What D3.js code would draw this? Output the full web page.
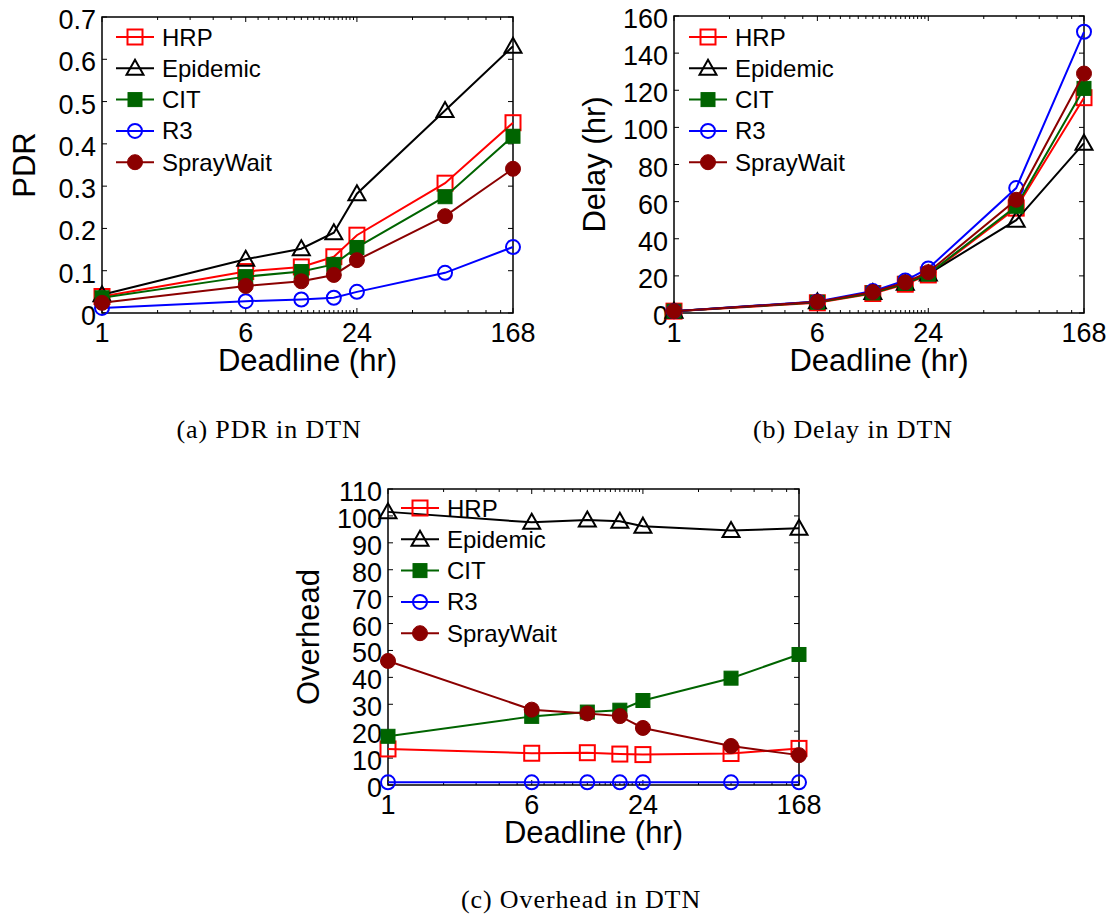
<!DOCTYPE html>
<html>
<head>
<meta charset="utf-8">
<script src="https://cdn.jsdelivr.net/npm/d3@7"></script>
<style>
  html, body { margin: 0; padding: 0; background: #fff; }
  svg text { font-family: "Liberation Sans", Arial, Helvetica, sans-serif; fill: #000; }
  svg text.caption { font-family: "Liberation Serif", "Times New Roman", serif; letter-spacing: 0.9px; }
</style>
</head>
<body>
<svg id="fig" width="1111" height="915"></svg>
<script>
// Deadlines (hours) at which every protocol was evaluated
const deadlines = [1, 6, 12, 18, 24, 72, 168];
const xTickValues = [1, 6, 24, 168];
// hourly minor ticks up to a day, then daily ones up to a week
const xMinorTicks = [2, 3, 4, 5, 7, 8, 9, 10, 11, 12, 13, 14, 15, 16, 17, 18, 19, 20, 21, 22, 23, 48, 72, 96, 120, 144];

const seriesNames = ["HRP", "Epidemic", "CIT", "R3", "SprayWait"];

// Packet delivery ratio
const pdrHRP       = [0.039, 0.098, 0.109, 0.133, 0.184, 0.307, 0.450];
const pdrEpidemic  = [0.043, 0.127, 0.152, 0.190, 0.282, 0.479, 0.631];
const pdrCIT       = [0.036, 0.086, 0.098, 0.115, 0.155, 0.275, 0.418];
const pdrR3        = [0.012, 0.028, 0.032, 0.036, 0.050, 0.095, 0.156];
const pdrSprayWait = [0.024, 0.064, 0.075, 0.090, 0.125, 0.229, 0.341];
const pdrTicks = [0, 0.1, 0.2, 0.3, 0.4, 0.5, 0.6, 0.7];

// Average delay (hr)
const delayHRP       = [1.0, 5.5, 10.5, 15.5, 20.5, 56.5, 116.0];
const delayEpidemic  = [1.0, 6.0, 11.0, 16.0, 21.0, 50.0, 91.5];
const delayCIT       = [1.0, 5.8, 10.8, 16.0, 21.0, 57.5, 121.0];
const delayR3        = [1.0, 6.2, 11.8, 17.5, 24.0, 67.3, 151.5];
const delaySprayWait = [1.0, 6.0, 11.3, 16.5, 22.0, 61.0, 129.0];
const delayTicks = [0, 20, 40, 60, 80, 100, 120, 140, 160];

// Overhead
const ohHRP       = [13.4, 11.8, 12.0, 11.5, 11.3, 11.7, 13.6];
const ohEpidemic  = [101.5, 97.6, 98.5, 98.0, 96.2, 94.6, 95.4];
const ohCIT       = [18.1, 25.5, 27.1, 27.8, 31.4, 39.7, 48.5];
const ohR3        = [1.0, 1.0, 1.0, 1.0, 1.0, 1.0, 1.0];
const ohSprayWait = [46.1, 28.0, 26.6, 25.6, 21.2, 14.5, 11.1];
const ohTicks = [0, 10, 20, 30, 40, 50, 60, 70, 80, 90, 100, 110];

// Visual style of each protocol
const styles = {
  HRP:       { color: "#ff0000", shape: "square",   filled: false },
  Epidemic:  { color: "#000000", shape: "triangle", filled: false },
  CIT:       { color: "#006400", shape: "square",   filled: true  },
  R3:        { color: "#0000ff", shape: "circle",   filled: false },
  SprayWait: { color: "#8b0000", shape: "circle",   filled: true  }
};

const svg = d3.select("#fig");

function drawMarker(g, shape, color, filled, cx, cy) {
  const fill = filled ? color : "none";
  if (shape === "square") {
    const s = filled ? 14 : 15;
    g.append("rect").attr("x", cx - s / 2).attr("y", cy - s / 2)
      .attr("width", s).attr("height", s)
      .attr("fill", fill).attr("stroke", color).attr("stroke-width", filled ? 1 : 2);
  } else if (shape === "circle") {
    g.append("circle").attr("cx", cx).attr("cy", cy).attr("r", filled ? 7.5 : 7)
      .attr("fill", fill).attr("stroke", color).attr("stroke-width", filled ? 1 : 2);
  } else {
    const pts = [[cx, cy - 8.5], [cx + 8.5, cy + 6.5], [cx - 8.5, cy + 6.5]];
    g.append("polygon").attr("points", pts.map(p => p.join(",")).join(" "))
      .attr("fill", fill).attr("stroke", color).attr("stroke-width", 2)
      .attr("stroke-linejoin", "miter");
  }
}

function drawPanel(cfg) {
  const { left, right, top, bottom } = cfg.box;
  const g = svg.append("g");

  const x = d3.scaleLog().domain([1, 168]).range([left, right]);
  const y = d3.scaleLinear().domain([0, cfg.yMax]).range([bottom, top]);

  // tick marks (inward, on all four sides)
  const tg = g.append("g").attr("stroke", "#000").attr("stroke-width", 1);
  xMinorTicks.forEach(v => {
    const px = x(v);
    tg.append("line").attr("x1", px).attr("x2", px).attr("y1", bottom).attr("y2", bottom - 3);
    tg.append("line").attr("x1", px).attr("x2", px).attr("y1", top).attr("y2", top + 3);
  });
  xTickValues.forEach(v => {
    const px = x(v);
    tg.append("line").attr("x1", px).attr("x2", px).attr("y1", bottom).attr("y2", bottom - 5);
    tg.append("line").attr("x1", px).attr("x2", px).attr("y1", top).attr("y2", top + 5);
  });
  cfg.yTicks.forEach(v => {
    const py = y(v);
    tg.append("line").attr("x1", left).attr("x2", left + 5).attr("y1", py).attr("y2", py);
    tg.append("line").attr("x1", right).attr("x2", right - 5).attr("y1", py).attr("y2", py);
  });

  // plot frame
  g.append("rect").attr("x", left).attr("y", top)
    .attr("width", right - left).attr("height", bottom - top)
    .attr("fill", "none").attr("stroke", "#000").attr("stroke-width", 1.5);

  // tick labels
  xTickValues.forEach(v => {
    g.append("text").attr("x", x(v)).attr("y", bottom + 29)
      .attr("text-anchor", "middle").attr("font-size", 27).text(String(v));
  });
  cfg.yTicks.forEach(v => {
    g.append("text").attr("x", left - 6).attr("y", y(v) + 12)
      .attr("text-anchor", "end").attr("font-size", 27).text(cfg.yFormat(v));
  });

  // axis titles
  g.append("text").attr("x", (left + right) / 2).attr("y", bottom + 58)
    .attr("text-anchor", "middle").attr("font-size", 31).text("Deadline (hr)");
  g.append("text")
    .attr("transform", `translate(${left - cfg.yTitleOffset},${(top + bottom) / 2}) rotate(-90)`)
    .attr("text-anchor", "middle").attr("font-size", 31).text(cfg.yTitle);

  // data series
  const line = d3.line().x(d => x(d[0])).y(d => y(d[1]));
  seriesNames.forEach(name => {
    const st = styles[name];
    const pts = deadlines.map((d, i) => [d, cfg.data[name][i]]);
    const sg = g.append("g");
    sg.append("path").attr("d", line(pts)).attr("fill", "none")
      .attr("stroke", st.color).attr("stroke-width", 2);
    pts.forEach(p => drawMarker(sg, st.shape, st.color, st.filled, x(p[0]), y(p[1])));
  });

  // legend
  const lg = g.append("g");
  seriesNames.forEach((name, i) => {
    const st = styles[name];
    const ly = top + cfg.legendTop + i * 31.3;
    const lx = left + cfg.legendLeft;
    lg.append("line").attr("x1", lx).attr("x2", lx + 38).attr("y1", ly).attr("y2", ly)
      .attr("stroke", st.color).attr("stroke-width", 2);
    drawMarker(lg, st.shape, st.color, st.filled, lx + 19, ly);
    lg.append("text").attr("x", lx + 46).attr("y", ly + 8.5)
      .attr("font-size", 24).text(name);
  });

  // caption
  svg.append("text").attr("class", "caption")
    .attr("x", cfg.caption.x).attr("y", cfg.caption.y)
    .attr("text-anchor", "middle").attr("font-size", 26).text(cfg.caption.text);
}

drawPanel({
  box: { left: 102, right: 513, top: 17, bottom: 313 },
  yMax: 0.7, yTicks: pdrTicks, yFormat: v => (v === 0 ? "0" : d3.format(".1f")(v)),
  yTitle: "PDR", yTitleOffset: 67,
  legendLeft: 14, legendTop: 20,
  data: { HRP: pdrHRP, Epidemic: pdrEpidemic, CIT: pdrCIT, R3: pdrR3, SprayWait: pdrSprayWait },
  caption: { x: 269, y: 438, text: "(a) PDR in DTN" }
});

drawPanel({
  box: { left: 674, right: 1084, top: 16, bottom: 313 },
  yMax: 160, yTicks: delayTicks, yFormat: v => String(v),
  yTitle: "Delay (hr)", yTitleOffset: 69,
  legendLeft: 15, legendTop: 21,
  data: { HRP: delayHRP, Epidemic: delayEpidemic, CIT: delayCIT, R3: delayR3, SprayWait: delaySprayWait },
  caption: { x: 853, y: 438, text: "(b) Delay in DTN" }
});

drawPanel({
  box: { left: 388, right: 799, top: 489, bottom: 785 },
  yMax: 110, yTicks: ohTicks, yFormat: v => String(v),
  yTitle: "Overhead", yTitleOffset: 69,
  legendLeft: 13, legendTop: 19,
  data: { HRP: ohHRP, Epidemic: ohEpidemic, CIT: ohCIT, R3: ohR3, SprayWait: ohSprayWait },
  caption: { x: 581, y: 908, text: "(c) Overhead in DTN" }
});
</script>
</body>
</html>
